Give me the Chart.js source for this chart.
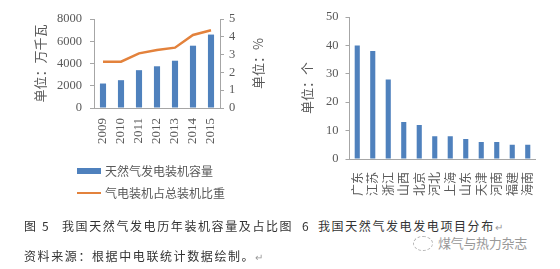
<!DOCTYPE html>
<html>
<head>
<meta charset="utf-8">
<script src="https://cdn.jsdelivr.net/npm/chart.js@4.4.1/dist/chart.umd.min.js"></script>
<style>
body{margin:0;width:560px;height:269px;background:#fff;position:relative;overflow:hidden;font-family:"Noto Sans CJK SC",sans-serif}
#leftBox{position:absolute;left:0;top:0;width:280px;height:160px}
#rightBox{position:absolute;left:280px;top:0;width:280px;height:210px}
#legend{position:absolute;left:77px;top:162px;font-size:12px;color:#595959}
#legend .item{position:relative;height:22px;line-height:17px;padding-left:28px;white-space:nowrap}
#legend .mark{position:absolute;left:0}
.cap{position:absolute;font-size:12px;line-height:14px;color:#333;letter-spacing:1.6px;white-space:nowrap}
.ret{color:#999;font-size:10px;letter-spacing:0}
#mark{position:absolute;left:438px;top:235px;font-size:13px;line-height:16px;color:#999;letter-spacing:-0.3px;white-space:nowrap}
#icon{position:absolute;left:413px;top:236px;width:18px;height:13px;border:1px dashed #b5b5b5;border-radius:50%}
</style>
</head>
<body>
<div id="leftBox"><canvas id="capChart"></canvas></div>
<div id="rightBox"><canvas id="projChart"></canvas></div>
<div id="legend"></div>

<div class="cap" style="left:24px;top:219px">图 5</div>
<div class="cap" style="left:62px;top:219px">我国天然气发电历年装机容量及占比图</div>
<div class="cap" style="left:302px;top:219px">6</div>
<div class="cap" style="left:318px;top:219px">我国天然气发电发电项目分布<span class="ret">↵</span></div>
<div class="cap" style="left:24px;top:249px">资料来源：根据中电联统计数据绘制。<span class="ret">↵</span></div>
<div id="icon"></div>
<div id="mark">煤气与热力杂志</div>

<script>
// chart data
let years = ["2009", "2010", "2011", "2012", "2013", "2014", "2015"]
let capacity = [2200, 2500, 3400, 3750, 4250, 5600, 6600]
let share = [2.6, 2.6, 3.07, 3.26, 3.39, 4.1, 4.37]
let capTicks = [0, 8000, 2000]
let shareTicks = [0, 5, 1]
let provinces = ["广东", "江苏", "浙江", "山西", "北京", "河北", "上海", "山东", "天津", "河南", "福建", "海南"]
let projects = [40, 38, 28, 13, 12, 8, 8, 7, 6, 6, 5, 5]
let projTicks = [0, 50, 10]

const blue = "#4F81BD"
const orange = "#E3823C"
const axisGray = "#A6A6A6"
const textGray = "#595959"
const numFont = {family: "'Liberation Serif', serif", size: 12.5}
const cjkFont = {family: "'Noto Sans CJK SC', sans-serif", size: 13}
const plain = function(v){ return String(v) }

// right axis title reads bottom-to-top in the original
const rightTitle = {
    id: "rightTitle",
    afterDraw(chart) {
        const s = chart.scales.y1
        const ctx = chart.ctx
        ctx.save()
        ctx.translate(s.left + 38, (s.top + s.bottom) / 2)
        ctx.rotate(-Math.PI / 2)
        ctx.font = "13px 'Noto Sans CJK SC'"
        ctx.fillStyle = textGray
        ctx.textAlign = "center"
        ctx.textBaseline = "middle"
        ctx.fillText("单位：%", 0, 0)
        ctx.restore()
    }
}

let capChart = new Chart("capChart", {
    type: "bar",
    data: {
        labels: years,
        datasets: [{
            type: "bar",
            label: "天然气发电装机容量",
            data: capacity,
            backgroundColor: blue,
            yAxisID: "y",
            order: 2,
            barPercentage: 0.34,
            categoryPercentage: 1
        }, {
            type: "line",
            label: "气电装机占总装机比重",
            data: share,
            borderColor: orange,
            borderWidth: 2.5,
            pointRadius: 0,
            yAxisID: "y1",
            order: 1
        }]
    },
    options: {
        responsive: true,
        maintainAspectRatio: false,
        animation: false,
        layout: {padding: {top: 19, left: 0, right: 0, bottom: 0}},
        plugins: {legend: {display: false}, tooltip: {enabled: false}},
        scales: {
            x: {
                grid: {display: false, drawTicks: false},
                border: {color: axisGray},
                ticks: {autoSkip: false, minRotation: 90, maxRotation: 90, padding: 10, font: {family: numFont.family, size: 13}, color: textGray},
                afterFit(s) { s.height = 52 }
            },
            y: {
                min: capTicks[0], max: capTicks[1],
                ticks: {stepSize: capTicks[2], autoSkip: false, padding: 8, font: numFont, color: textGray, callback: plain},
                grid: {drawOnChartArea: false, tickLength: 4, color: axisGray},
                border: {color: axisGray},
                title: {display: true, text: "单位：万千瓦", color: textGray, font: cjkFont, padding: {top: 32, bottom: 0}},
                afterFit(s) { s.width = 94 }
            },
            y1: {
                position: "right",
                min: shareTicks[0], max: shareTicks[1],
                ticks: {stepSize: shareTicks[2], autoSkip: false, padding: 5, font: numFont, color: textGray, callback: plain},
                grid: {drawOnChartArea: false, tickLength: 4, color: axisGray},
                border: {color: axisGray},
                afterFit(s) { s.width = 60 }
            }
        }
    },
    plugins: [rightTitle]
})

// legend stacked on two rows, built from the datasets
let legend = document.querySelector("#legend")
capChart.data.datasets.forEach(function(ds){
    let item = document.createElement("div")
    item.className = "item"
    let mark = document.createElement("span")
    mark.className = "mark"
    if (ds.type == "bar") {
        mark.style.cssText = "top:6px;width:24px;height:6px;background:" + ds.backgroundColor
    } else {
        mark.style.cssText = "top:8px;width:24px;height:2px;background:" + ds.borderColor
    }
    item.appendChild(mark)
    item.appendChild(document.createTextNode(ds.label))
    legend.appendChild(item)
})

new Chart("projChart", {
    type: "bar",
    data: {
        labels: provinces,
        datasets: [{
            label: "发电项目",
            data: projects,
            backgroundColor: blue,
            barPercentage: 0.33,
            categoryPercentage: 1
        }]
    },
    options: {
        responsive: true,
        maintainAspectRatio: false,
        animation: false,
        layout: {padding: {top: 17, left: 0, right: 24.5, bottom: 0}},
        plugins: {legend: {display: false}, tooltip: {enabled: false}},
        scales: {
            x: {
                grid: {display: false, drawTicks: false},
                border: {color: axisGray},
                ticks: {autoSkip: false, minRotation: 90, maxRotation: 90, padding: 13, font: {family: cjkFont.family, size: 12}, color: textGray},
                afterFit(s) { s.height = 51 }
            },
            y: {
                min: projTicks[0], max: projTicks[1],
                ticks: {stepSize: projTicks[2], autoSkip: false, padding: 7, font: numFont, color: textGray, callback: plain},
                grid: {drawOnChartArea: false, tickLength: 4, color: axisGray},
                border: {color: axisGray},
                title: {display: true, text: "单位：个", color: textGray, font: cjkFont, padding: {top: 19, bottom: 0}},
                afterFit(s) { s.width = 69.5 }
            }
        }
    }
})
</script>
</body>
</html>
